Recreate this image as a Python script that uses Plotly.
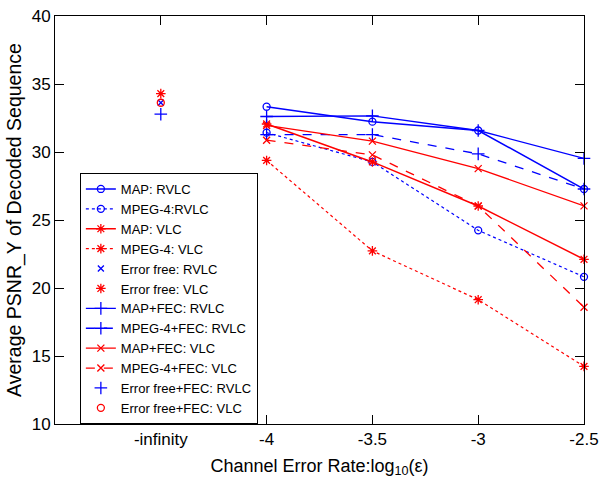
import plotly.graph_objects as go

# x positions: -4.5 stands for "-infinity" (error free)
x_tick_vals = [-4.5, -4, -3.5, -3, -2.5]
x_tick_text = ["-infinity", "-4", "-3.5", "-3", "-2.5"]
x_err = [-4, -3.5, -3, -2.5]
x_free = [-4.5]

map_rvlc = [33.33, 32.23, 31.58, 27.28]
mpeg4_rvlc = [31.42, 29.27, 24.24, 20.82]
map_vlc = [32.06, 29.27, 26.03, 22.11]
mpeg4_vlc = [29.38, 22.73, 19.14, 14.24]
errfree_rvlc = [33.62]
errfree_vlc = [34.29]
mapfec_rvlc = [32.61, 32.66, 31.58, 29.53]
mpeg4fec_rvlc = [31.28, 31.28, 29.86, 27.28]
mapfec_vlc = [31.95, 30.80, 28.78, 26.04]
mpeg4fec_vlc = [30.87, 29.79, 26.03, 18.59]
errfreefec_rvlc = [32.78]
errfreefec_vlc = [33.62]

BLUE = "#0000ff"
RED = "#ff0000"
FONT = "Liberation Sans, Arial, sans-serif"

series = [
    ("MAP: RVLC", x_err, map_rvlc, BLUE, "solid", "circle-open", 7, 1.5, "lines+markers"),
    ("MPEG-4:RVLC", x_err, mpeg4_rvlc, BLUE, "dot", "circle-open", 7, 1.2, "lines+markers"),
    ("MAP: VLC", x_err, map_vlc, RED, "solid", "asterisk-open", 8, 1.5, "lines+markers"),
    ("MPEG-4: VLC", x_err, mpeg4_vlc, RED, "dot", "asterisk-open", 8, 1.2, "lines+markers"),
    ("Error free: RVLC", x_free, errfree_rvlc, BLUE, "solid", "x-thin-open", 6, 1.2, "markers"),
    ("Error free: VLC", x_free, errfree_vlc, RED, "solid", "asterisk-open", 8, 1.2, "markers"),
    ("MAP+FEC: RVLC", x_err, mapfec_rvlc, BLUE, "solid", "cross-thin-open", 9, 1.3, "lines+markers"),
    ("MPEG-4+FEC: RVLC", x_err, mpeg4fec_rvlc, BLUE, "dash", "cross-thin-open", 9, 1.3, "lines+markers"),
    ("MAP+FEC: VLC", x_err, mapfec_vlc, RED, "solid", "x-thin-open", 7, 1.3, "lines+markers"),
    ("MPEG-4+FEC: VLC", x_err, mpeg4fec_vlc, RED, "dash", "x-thin-open", 7, 1.3, "lines+markers"),
    ("Error free+FEC: RVLC", x_free, errfreefec_rvlc, BLUE, "solid", "cross-thin-open", 9, 1.3, "markers"),
    ("Error free+FEC: VLC", x_free, errfreefec_vlc, RED, "solid", "circle-open", 7, 1.3, "markers"),
]

fig = go.Figure()
for name, xs, ys, col, dash, sym, size, lw, mode in series:
    fig.add_trace(go.Scatter(
        x=xs, y=ys, name=name, mode=mode,
        line=dict(color=col, width=lw, dash=dash),
        marker=dict(symbol=sym, size=size, color=col, line=dict(color=col, width=1.3)),
        cliponaxis=False,
    ))

axis_common = dict(
    showline=True, linecolor="black", linewidth=1, mirror="ticks",
    ticks="inside", ticklen=9, tickcolor="black", tickwidth=1,
    showgrid=False, zeroline=False, ticklabeloverflow="allow",
    tickfont=dict(family=FONT, size=17, color="black"),
)

fig.update_layout(
    width=611, height=480,
    margin=dict(l=55, r=27, t=7, b=56),
    paper_bgcolor="white", plot_bgcolor="white",
    font=dict(family=FONT, color="black"),
    xaxis=dict(range=[-5, -2.5], tickvals=x_tick_vals, ticktext=x_tick_text,
               title=dict(text="Channel Error Rate:log<sub>10</sub>(ε)",
                          font=dict(family=FONT, size=18), standoff=10),
               **axis_common),
    yaxis=dict(range=[10, 40], tickvals=[10, 15, 20, 25, 30, 35, 40],
               title=dict(text="Average PSNR_Y of Decoded Sequence",
                          font=dict(family=FONT, size=19.5), standoff=4),
               **axis_common),
    legend=dict(x=0.047, y=0.0, xanchor="left", yanchor="bottom",
                bgcolor="white", bordercolor="black", borderwidth=1,
                font=dict(family=FONT, size=13, color="black"),
                tracegroupgap=0, itemwidth=30),
    showlegend=True,
)

fig.write_html("out.html", config={"displayModeBar": False},
               post_script="document.body.style.margin='0';document.body.style.padding='0';")
